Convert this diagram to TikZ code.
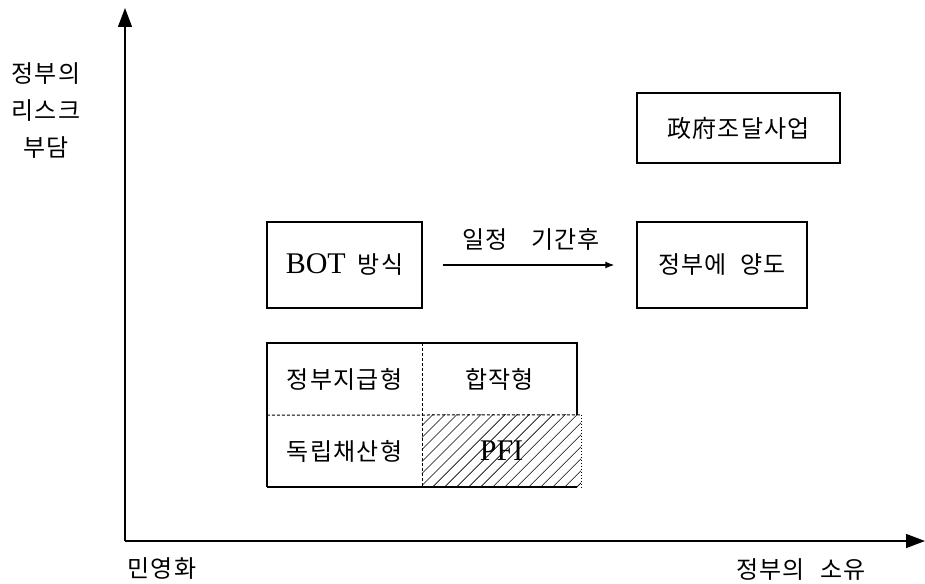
\documentclass[tikz,border=0pt]{standalone}
\usepackage{fontspec}
\setmainfont{Noto Sans CJK KR}[LetterSpace=5]
\newfontfamily\lat{Liberation Serif}[Scale=1.25]
\usetikzlibrary{arrows.meta,patterns.meta}
\tikzset{
  txt/.style={font=\fontsize{24}{34}\selectfont, inner sep=0pt, align=center},
  box/.style={txt, draw, line width=1.5pt},
  cell/.style={txt, minimum width=155pt, minimum height=72pt},
  axis/.style={line width=1.3pt, -{Triangle[length=19pt,width=14pt]}},
  conn/.style={line width=1.2pt, -{Latex[length=9pt,width=7pt]}},
  solidedge/.style={line width=1.5pt},
  dashedge/.style={line width=1pt, dashed, dash pattern=on 3pt off 2pt},
  dotedge/.style={line width=1pt, dotted}
}
\begin{document}
\begin{tikzpicture}[x=1pt,y=-1pt]
\useasboundingbox (0,0) rectangle (925,583);
% axes
\coordinate (O) at (125,541);
\coordinate (ytip) at (125,8);
\coordinate (xtip) at (925,541);
\draw[axis] (O) -- (ytip);
\draw[axis] (O) -- (xtip);
% axis labels
\node[txt, font=\fontsize{24}{37}\selectfont] (ylab) at (46,111) {정부의\\리스크\\부담};
\node[txt] (xl) at (162,569) {민영화};
\node[txt] (xr) at (801,570) {정부의\hspace{16pt}소유};
% boxes
\node[box, minimum width=203pt, minimum height=70pt] (gov) at (738.5,128) {政府조달사업};
\node[box, minimum width=155pt, minimum height=86pt] (bot) at (344.5,265) {{\lat BOT}\hspace{12pt}방식};
\node[box, minimum width=170pt, minimum height=86pt] (yd) at (722,265) {정부에\hspace{14pt}양도};
\draw[conn] ([xshift=20pt]bot.east) -- ([xshift=-22pt]yd.west);
\node[txt] (lbl) at (531,239) {일정\hspace{24pt}기간후};
% grid
\node[cell] (c11) at (344.5,379) {정부지급형};
\node[cell] (c12) at (499.5,379) {합작형};
\node[cell] (c21) at (344.5,451) {독립채산형};
\node[cell, minimum width=159pt] (c22) at (501.5,451) {};
\fill[pattern={Lines[angle=45,distance=8.5pt,line width=0.6pt]}] (c22.north west) rectangle (c22.south east);
\node[txt] (pfi) at (c22.center) {\lat PFI};
\draw[solidedge] (c11.south west |- c22.south east) -- (c11.north west) -- (c12.north east) -- (c12.south east);
\draw[solidedge] (c21.south west) -- (c12.east |- c21.south);
\draw[dashedge] (c11.north east) -- (c21.south east);
\draw[dashedge] (c11.south west) -- (c22.north east);
\draw[dotedge] (c22.north east) -- (c22.south east);
\end{tikzpicture}
\end{document}
